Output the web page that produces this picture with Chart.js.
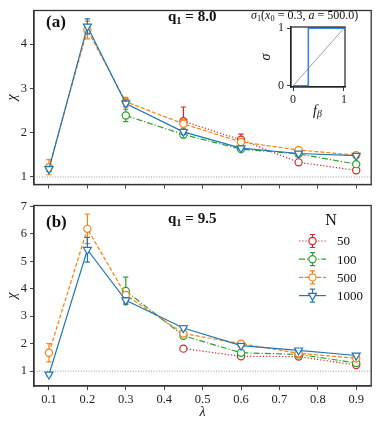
<!DOCTYPE html>
<html><head><meta charset="utf-8">
<script src="https://cdn.jsdelivr.net/npm/chart.js@4/dist/chart.umd.min.js"></script>
<style>
body{margin:0;background:#fff;width:377px;height:424px;position:relative;overflow:hidden;font-family:'Liberation Serif','DejaVu Serif',serif;color:#111;}
canvas{position:absolute;}
.t{position:absolute;white-space:nowrap;line-height:1;}
.b{font-weight:bold;}
sub{font-size:70%;vertical-align:-0.25em;line-height:0;}
</style></head><body>
<canvas id="ca" width="377" height="195" style="left:0;top:0"></canvas>
<canvas id="cb" width="377" height="229" style="left:0;top:195px"></canvas>
<canvas id="ci" width="125" height="122" style="left:250px;top:0"></canvas>
<div class="t b" style="left:46px;top:13px;font-size:17px">(a)</div>
<div class="t b" style="left:168px;top:9px;font-size:15px">q<sub>1</sub> = 8.0</div>
<div class="t b" style="left:46px;top:213px;font-size:17px">(b)</div>
<div class="t b" style="left:168px;top:211px;font-size:15px">q<sub>1</sub> = 9.5</div>
<div class="t" style="left:251px;top:9px;font-size:12px"><i>σ</i><sub>1</sub>(<i>x</i><sub>0</sub> = 0.3, <i>a</i> = 500.0)</div>
<div class="t" style="left:313px;top:104px;font-size:14px"><i>f</i><sub><i>β</i></sub></div>
<script>
// ---- data ----
const lambdas = [0.1, 0.2, 0.3, 0.45, 0.6, 0.75, 0.9];
const xTicks = [0.1, 0.2, 0.3, 0.4, 0.5, 0.6, 0.7, 0.8, 0.9];
const yTicksA = [1, 2, 3, 4];
const yTicksB = [1, 2, 3, 4, 5, 6, 7];
const seriesN = ['50', '100', '500', '1000'];
const refChi = 1;

// panel (a): q1 = 8.0
const chiA_50   = [null, null, null, 2.26, 1.84, 1.33, 1.15];
const errA_50   = [null, null, null, 0.32, 0.13, 0.06, 0.05];
const chiA_100  = [null, null, 2.39, 1.96, 1.63, 1.52, 1.29];
const errA_100  = [null, null, 0.14, 0.08, 0.05, 0.04, 0.04];
const chiA_500  = [1.22, 4.32, 2.70, 2.20, 1.79, 1.61, 1.49];
const errA_500  = [0.17, 0.20, 0.10, 0.10, 0.06, 0.05, 0.04];
const chiA_1000 = [1.18, 4.40, 2.66, 2.02, 1.65, 1.53, 1.48];
const errA_1000 = [0.06, 0.17, 0.08, 0.06, 0.04, 0.04, 0.04];

// panel (b): q1 = 9.5
const chiB_50   = [null, null, null, 1.82, 1.54, 1.53, 1.22];
const errB_50   = [null, null, null, 0.08, 0.06, 0.05, 0.05];
const chiB_100  = [null, null, 3.92, 2.29, 1.67, 1.61, 1.30];
const errB_100  = [null, null, 0.50, 0.10, 0.07, 0.05, 0.05];
const chiB_500  = [1.67, 6.18, 3.77, 2.37, 2.00, 1.65, 1.47];
const errB_500  = [0.33, 0.54, 0.12, 0.08, 0.07, 0.05, 0.05];
const chiB_1000 = [0.88, 5.42, 3.58, 2.57, 1.93, 1.76, 1.57];
const errB_1000 = [0.05, 0.45, 0.10, 0.08, 0.06, 0.05, 0.05];

// inset: sigma_1(x0=0.3, a=500)
const insetF     = [0, 0.3, 0.3, 1];
const insetSigma = [0, 0, 1, 1];
const insetDiagF = [0, 1];
const insetDiagS = [0, 1];

// ---- styles ----
const colors = {'50':'#d62728','100':'#2ca02c','500':'#ff7f0e','1000':'#1f77b4'};
const dashes = {'50':[1.2,2],'100':[6,2,1.2,2],'500':[4,2],'1000':[]};
const order  = {'50':3,'100':2,'500':1,'1000':0};
const SERIF = "'Liberation Serif','DejaVu Serif',serif";

function makeDatasets(vals, errs) {
  return seriesN.map((n, k) => {
    const pts = [], e = [];
    lambdas.forEach((x, i) => { if (vals[k][i] !== null) { pts.push({x: x, y: vals[k][i]}); e.push(errs[k][i]); } });
    const tri = n === '1000';
    return {
      label: n, data: pts, errors: e, order: order[n],
      borderColor: colors[n], backgroundColor: '#fff', borderWidth: 1.2, borderDash: dashes[n],
      pointStyle: tri ? 'triangle' : 'circle', pointRotation: tri ? 180 : 0,
      pointRadius: tri ? 4.6 : 3.6, pointBorderWidth: 1.2,
      pointBackgroundColor: '#fff', pointBorderColor: colors[n], tension: 0
    };
  });
}

const errPlugin = {
  id: 'errbars',
  beforeDatasetDraw(chart, args) {
    const ds = chart.data.datasets[args.index];
    if (!ds.errors) return;
    const xs = chart.scales.x, ys = chart.scales.y, ctx = chart.ctx;
    ctx.save(); ctx.strokeStyle = ds.borderColor; ctx.lineWidth = 1.2; ctx.setLineDash([]);
    ds.data.forEach((p, i) => {
      const e = ds.errors[i]; if (!e) return;
      const px = xs.getPixelForValue(p.x), y1 = ys.getPixelForValue(p.y + e), y0 = ys.getPixelForValue(p.y - e);
      ctx.beginPath();
      ctx.moveTo(px, y0); ctx.lineTo(px, y1);
      ctx.moveTo(px - 2.6, y0); ctx.lineTo(px + 2.6, y0);
      ctx.moveTo(px - 2.6, y1); ctx.lineTo(px + 2.6, y1);
      ctx.stroke();
    });
    ctx.restore();
  }
};

const framePlugin = {
  id: 'frame',
  afterDraw(chart, args, opts) {
    const a = chart.chartArea, ctx = chart.ctx;
    ctx.save(); ctx.strokeStyle = opts.color || '#333'; ctx.lineWidth = opts.width || 1.3;
    ctx.strokeRect(a.left, a.top, a.right - a.left, a.bottom - a.top);
    ctx.restore();
  }
};

const legendPlugin = {
  id: 'nlegend',
  afterDraw(chart, args, opts) {
    if (!opts.show) return;
    const ctx = chart.ctx;
    ctx.save();
    ctx.fillStyle = '#111'; ctx.textBaseline = 'middle'; ctx.textAlign = 'center';
    ctx.font = '16px ' + SERIF;
    ctx.fillText('N', opts.x, opts.y);
    ctx.font = '13px ' + SERIF; ctx.textAlign = 'left';
    const byLabel = {};
    chart.data.datasets.forEach(d => { if (d.errors) byLabel[d.label] = d; });
    seriesN.forEach((n, i) => {
      const d = byLabel[n]; const y = opts.y + 20 + i * 18.2;
      const x0 = opts.x - 32, x1 = opts.x - 5, xm = (x0 + x1) / 2;
      ctx.strokeStyle = d.borderColor; ctx.lineWidth = 1.2;
      ctx.setLineDash(d.borderDash); ctx.beginPath(); ctx.moveTo(x0, y); ctx.lineTo(x1, y); ctx.stroke();
      ctx.setLineDash([]); ctx.beginPath();
      ctx.moveTo(xm, y - 6.5); ctx.lineTo(xm, y + 6.5);
      ctx.moveTo(xm - 2.6, y - 6.5); ctx.lineTo(xm + 2.6, y - 6.5);
      ctx.moveTo(xm - 2.6, y + 6.5); ctx.lineTo(xm + 2.6, y + 6.5); ctx.stroke();
      ctx.fillStyle = '#fff';
      Chart.helpers.drawPoint(ctx, {pointStyle: d.pointStyle, rotation: d.pointRotation, radius: d.pointRadius, borderWidth: 1.2}, xm, y);
      ctx.fillStyle = '#111';
      ctx.fillText(n, opts.x + 6, y + 1);
    });
    ctx.restore();
  }
};

function refDataset(xmin, xmax) {
  return {data: [{x: xmin, y: refChi}, {x: xmax, y: refChi}], borderColor: '#999', borderWidth: 1,
    borderDash: [1, 1.6], pointRadius: 0, order: 10, label: 'ref'};
}

function mainChart(id, vals, errs, ymin, ymax, yTicks, opts) {
  const xmin = 0.061, xmax = 0.939;
  const datasets = makeDatasets(vals, errs);
  datasets.push(refDataset(xmin, xmax));
  return new Chart(document.getElementById(id), {
    type: 'line',
    data: {datasets},
    plugins: [errPlugin, framePlugin, legendPlugin],
    options: {
      responsive: false, animation: false, devicePixelRatio: 1,
      layout: {padding: {top: opts.padTop, right: 4, left: 0, bottom: 0}},
      plugins: {legend: {display: false}, tooltip: {enabled: false},
        frame: {color: '#333', width: 1.3},
        nlegend: opts.legend || {show: false}},
      scales: {
        x: {type: 'linear', min: xmin, max: xmax,
          afterBuildTicks: s => { s.ticks = xTicks.map(v => ({value: v})); },
          afterFit: s => { s.height = opts.xH; },
          ticks: {padding: 2, color: '#222', font: {family: SERIF, size: 12.5},
            callback: v => opts.xLabels ? v.toFixed(1) : ''},
          grid: {drawOnChartArea: false, drawTicks: true, tickLength: 4, color: '#444', lineWidth: 1},
          border: {display: true, color: '#333', width: 1.3},
          title: {display: !!opts.xLabels, text: 'λ', color: '#111', font: {family: SERIF, size: 14, style: 'italic'}, padding: {top: 0, bottom: 3}}
        },
        y: {type: 'linear', min: ymin, max: ymax,
          afterBuildTicks: s => { s.ticks = yTicks.map(v => ({value: v})); },
          afterFit: s => { s.width = 34; },
          ticks: {padding: 3, color: '#222', font: {family: SERIF, size: 12.5}, callback: v => String(v)},
          grid: {drawOnChartArea: false, drawTicks: true, tickLength: 4, color: '#444', lineWidth: 1},
          border: {display: true, color: '#333', width: 1.3},
          title: {display: true, text: 'χ', color: '#111', font: {family: SERIF, size: 14, style: 'italic'}, padding: {top: 4, bottom: 0}}
        }
      }
    }
  });
}

mainChart('ca', [chiA_50, chiA_100, chiA_500, chiA_1000], [errA_50, errA_100, errA_500, errA_1000],
  0.83, 4.76, yTicksA, {padTop: 3, xH: 10, xLabels: false});
mainChart('cb', [chiB_50, chiB_100, chiB_500, chiB_1000], [errB_50, errB_100, errB_500, errB_1000],
  0.46, 7.03, yTicksB, {padTop: 8, xH: 38, xLabels: true, legend: {show: true, x: 331, y: 26}});

// inset
new Chart(document.getElementById('ci'), {
  type: 'line',
  data: {datasets: [
    {data: insetDiagF.map((f, i) => ({x: f, y: insetDiagS[i]})), borderColor: '#8a8a8a', borderWidth: 0.8, pointRadius: 0, order: 1},
    {data: insetF.map((f, i) => ({x: f, y: insetSigma[i]})), borderColor: '#3a86e8', borderWidth: 1.6, pointRadius: 0, order: 0}
  ]},
  plugins: [framePlugin, {id: 'bg', beforeDraw(c) { const a = c.chartArea; c.ctx.save(); c.ctx.fillStyle = '#fff'; c.ctx.fillRect(a.left, a.top, a.right - a.left, a.bottom - a.top); c.ctx.restore(); }}],
  options: {
    responsive: false, animation: false, devicePixelRatio: 1,
    layout: {padding: {top: 27, right: 30, left: 0, bottom: 0}},
    plugins: {legend: {display: false}, tooltip: {enabled: false}, frame: {color: '#222', width: 1.2}},
    scales: {
      x: {type: 'linear', min: -0.04, max: 1.02,
        afterBuildTicks: s => { s.ticks = [0, 1].map(v => ({value: v})); },
        afterFit: s => { s.height = 35; },
        ticks: {padding: 2, color: '#222', font: {family: SERIF, size: 12}, callback: v => String(v)},
        grid: {drawOnChartArea: false, tickLength: 4, color: '#333'},
        border: {display: true, color: '#222', width: 1.2}},
      y: {type: 'linear', min: -0.02, max: 1.02,
        afterBuildTicks: s => { s.ticks = [0, 1].map(v => ({value: v})); },
        afterFit: s => { s.width = 41; },
        ticks: {padding: 3, color: '#222', font: {family: SERIF, size: 12}, callback: v => String(v)},
        grid: {drawOnChartArea: false, tickLength: 4, color: '#333'},
        border: {display: true, color: '#222', width: 1.2},
        title: {display: true, text: 'σ', color: '#111', font: {family: SERIF, size: 14, style: 'italic'}, padding: {top: 8, bottom: 0}}}
    }
  }
});
</script>
</body></html>
